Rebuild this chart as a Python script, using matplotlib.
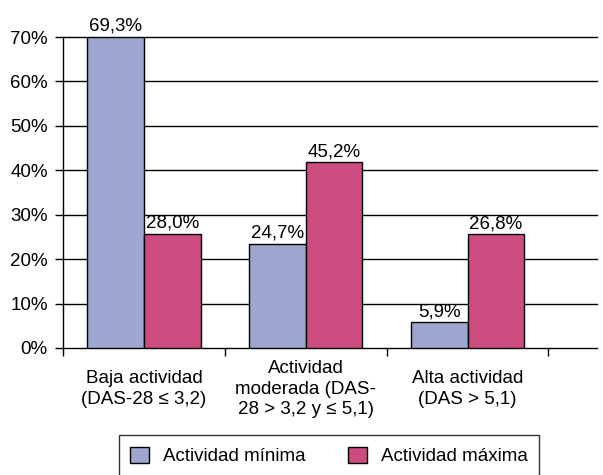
import matplotlib.pyplot as plt
import numpy as np

plt.rcParams['font.family'] = ['Liberation Sans', 'DejaVu Sans']

categorias = ['Baja actividad\n(DAS-28 ≤ 3,2)',
              'Actividad\nmoderada (DAS-\n28 > 3,2 y ≤ 5,1)',
              'Alta actividad\n(DAS > 5,1)']
series = ['Actividad mínima', 'Actividad máxima']
minima = [70.0, 23.4, 5.8]
maxima = [25.7, 41.8, 25.6]
etiq_minima = ['69,3%', '24,7%', '5,9%']
etiq_maxima = ['28,0%', '45,2%', '26,8%']
yticks = [0, 10, 20, 30, 40, 50, 60, 70]

azul = '#9ca6cf'
rosa = '#cc4c80'
fs = 13.5

fig = plt.figure(figsize=(6.03, 4.75), dpi=100)
ax = fig.add_axes([63/603, 1 - 348/475, 534/603, 311/475])

x = np.arange(len(categorias))
w = 0.35
b1 = ax.bar(x - w/2, minima, w, color=azul, edgecolor='black', linewidth=1, label=series[0], zorder=3)
b2 = ax.bar(x + w/2, maxima, w, color=rosa, edgecolor='black', linewidth=1, label=series[1], zorder=3)

for rect, t in zip(b1, etiq_minima):
    ax.annotate(t, (rect.get_x() + rect.get_width()/2, rect.get_height()),
                xytext=(0, 1.5), textcoords='offset points', ha='center', va='bottom',
                fontsize=fs, annotation_clip=False)
for rect, t in zip(b2, etiq_maxima):
    ax.annotate(t, (rect.get_x() + rect.get_width()/2, rect.get_height()),
                xytext=(0, 1.5), textcoords='offset points', ha='center', va='bottom',
                fontsize=fs, annotation_clip=False)

ax.set_ylim(0, 70)
ax.set_xlim(-0.5, 2.8)
ax.set_yticks(yticks)
ax.set_yticklabels([f'{v}%' for v in yticks], fontsize=fs)
ax.tick_params(axis='y', length=6, width=1, pad=5)
for v in yticks[1:]:
    ax.axhline(v, color='black', linewidth=1, zorder=1, clip_on=False)

ax.set_xticks(np.arange(len(categorias) + 1) - 0.5)
ax.set_xticklabels([])
ax.tick_params(axis='x', length=6, width=1)
for xi, c in zip(x, categorias):
    ax.text(xi, -41/311, c, transform=ax.get_xaxis_transform(), ha='center', va='center',
            fontsize=fs, linespacing=1.25)

for s in ['top', 'right']:
    ax.spines[s].set_visible(False)
ax.spines['left'].set_linewidth(1)
ax.spines['bottom'].set_linewidth(1)

leg = fig.legend(loc='center', bbox_to_anchor=(329/603, 1 - 456/475), ncol=2, fontsize=fs,
                 frameon=True, fancybox=False, edgecolor='black', handlelength=1.0,
                 handleheight=1.0, handletextpad=0.75, columnspacing=2.3, borderpad=0.6,
                 borderaxespad=0)
leg.get_frame().set_linewidth(1)

fig.savefig('out.png', dpi=100)
